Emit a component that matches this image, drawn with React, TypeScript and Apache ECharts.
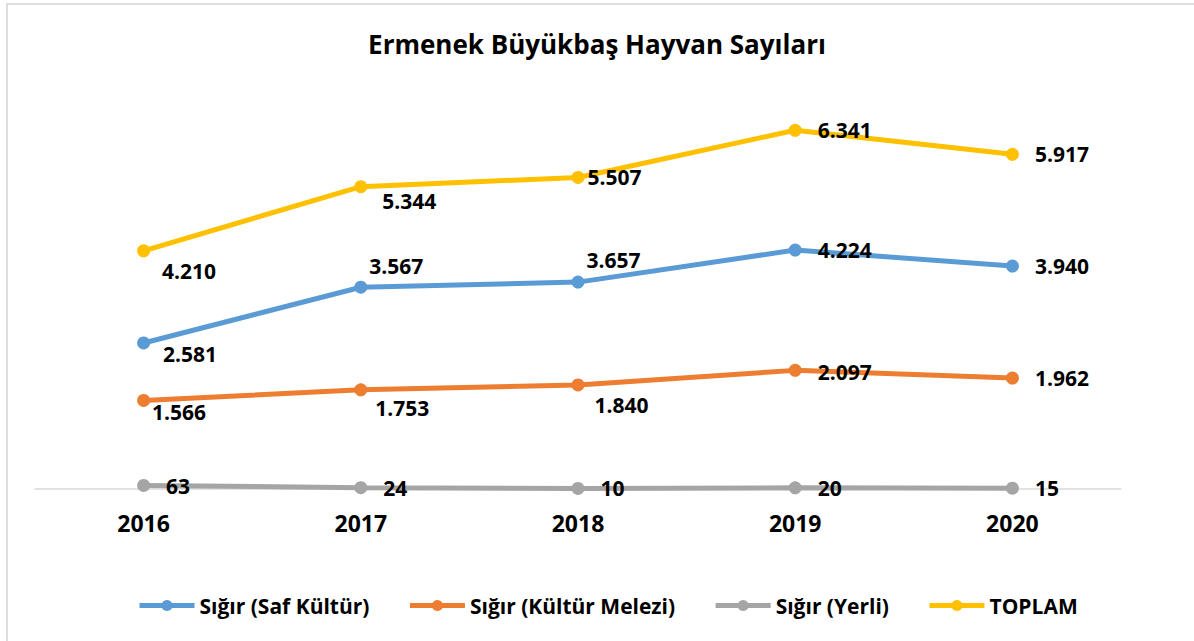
import React, { useEffect, useRef } from "react";
import * as echarts from "echarts";

const years = ["2016", "2017", "2018", "2019", "2020"];
const safKultur = [2581, 3567, 3657, 4224, 3940];
const kulturMelezi = [1566, 1753, 1840, 2097, 1962];
const yerli = [63, 24, 10, 20, 15];
const toplam = [4210, 5344, 5507, 6341, 5917];

// label offsets [dx, dy] relative to default "right" label placement
const toplamOffsets = [[-4, 20], [-1, 14], [-13, 0], [0, 0], [0, 0]];
const safOffsets = [[-3, 11], [-14, -21], [-14, -22], [0, 0], [0, 0]];
const melezOffsets = [[-14, 12], [-8, 18], [-6, 20], [0, 2], [0, 0]];
const yerliOffsets = [[0, 1], [0, 0], [0, 0], [0, 0], [0, 0]];

const FONT = "'Open Sans', 'Noto Sans', sans-serif";

const fmt = (v: number) => String(v).replace(/\B(?=(\d{3})+(?!\d))/g, ".");

function makeSeries(name: string, color: string, values: number[], offsets: number[][]) {
  return {
    name,
    type: "line",
    data: values.map((v, i) => ({
      value: v,
      label: { offset: offsets[i] },
    })),
    symbol: "circle",
    symbolSize: 13,
    lineStyle: { width: 5, color },
    itemStyle: { color },
    label: {
      show: true,
      position: "right",
      distance: 16,
      color: "#000",
      fontFamily: FONT,
      fontWeight: "bold",
      fontSize: 21,
      formatter: (p: any) => fmt(p.value),
    },
  };
}

export default function App() {
  const ref = useRef<HTMLDivElement>(null);
  useEffect(() => {
    document.body.style.margin = "0";
    const chart = echarts.init(ref.current!, undefined, { renderer: "svg" });
    chart.setOption({
      animation: false,
      backgroundColor: "#ffffff",
      graphic: [
        {
          type: "rect",
          z: -10,
          shape: { x: 7, y: 4, width: 1300, height: 800 },
          style: { fill: "#ffffff", stroke: "#d4d4d4", lineWidth: 1.5 },
        },
      ],
      title: {
        text: "Ermenek Büyükbaş Hayvan Sayıları",
        left: "center",
        top: 26,
        textStyle: { fontFamily: FONT, fontWeight: "bold", fontSize: 26, color: "#000" },
      },
      legend: {
        top: 590,
        left: 132,
        itemWidth: 55,
        itemHeight: 14,
        itemGap: 38,
        lineStyle: { width: 5 },
        textStyle: { fontFamily: FONT, fontWeight: "bold", fontSize: 21, color: "#000" },
        data: ["Sığır (Saf Kültür)", "Sığır (Kültür Melezi)", "Sığır (Yerli)", "TOPLAM"],
      },
      grid: { left: 35, right: 73, top: 93, bottom: 152 },
      xAxis: {
        type: "category",
        data: years,
        boundaryGap: true,
        axisLine: { lineStyle: { color: "#d9d9d9", width: 1.5 } },
        axisTick: { show: false },
        axisLabel: {
          margin: 22,
          color: "#000",
          fontFamily: FONT,
          fontWeight: "bold",
          fontSize: 23,
        },
      },
      yAxis: {
        type: "value",
        min: 0,
        max: 7000,
        show: false,
        splitLine: { show: false },
      },
      series: [
        makeSeries("Sığır (Saf Kültür)", "#5B9BD5", safKultur, safOffsets),
        makeSeries("Sığır (Kültür Melezi)", "#ED7D31", kulturMelezi, melezOffsets),
        makeSeries("Sığır (Yerli)", "#A5A5A5", yerli, yerliOffsets),
        makeSeries("TOPLAM", "#FFC000", toplam, toplamOffsets),
      ],
    });
    return () => chart.dispose();
  }, []);
  return (
    <div
      ref={ref}
      style={{ position: "fixed", left: 0, top: 0, width: 1194, height: 641 }}
    />
  );
}
